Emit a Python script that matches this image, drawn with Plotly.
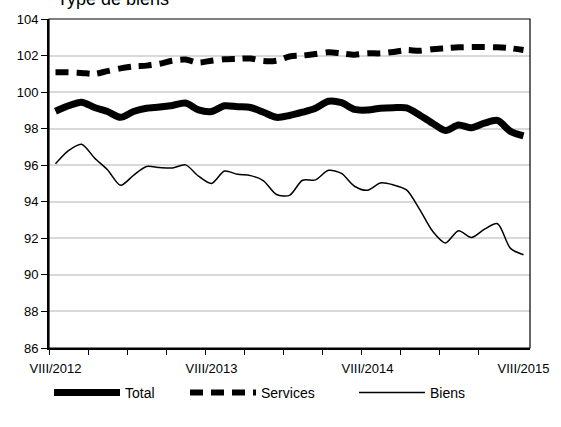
import plotly.graph_objects as go

roman = ["I", "II", "III", "IV", "V", "VI", "VII", "VIII", "IX", "X", "XI", "XII"]
months = []
m, y = 8, 2012
for _ in range(37):
    months.append(f"{roman[m-1]}/{y}")
    m += 1
    if m > 12:
        m, y = 1, y + 1

total = [98.95, 99.25, 99.45, 99.16, 98.94, 98.62, 98.94, 99.12, 99.18, 99.27,
         99.40, 99.03, 98.94, 99.25, 99.20, 99.16, 98.90, 98.62, 98.72, 98.90,
         99.12, 99.50, 99.42, 99.05, 99.02, 99.12, 99.15, 99.14, 98.75, 98.30,
         97.90, 98.20, 98.05, 98.30, 98.45, 97.85, 97.60]
services = [101.08, 101.08, 101.05, 101.00, 101.15, 101.30, 101.40, 101.45, 101.55, 101.72,
            101.78, 101.62, 101.72, 101.80, 101.82, 101.84, 101.70, 101.72, 101.95, 102.00,
            102.08, 102.18, 102.12, 102.05, 102.12, 102.12, 102.20, 102.30, 102.26, 102.35,
            102.40, 102.45, 102.47, 102.47, 102.45, 102.40, 102.30]
biens = [96.08, 96.80, 97.15, 96.40, 95.75, 94.90, 95.45, 95.93, 95.87, 95.85,
         96.02, 95.40, 95.00, 95.68, 95.50, 95.43, 95.15, 94.40, 94.35, 95.18,
         95.20, 95.72, 95.55, 94.85, 94.63, 95.03, 94.92, 94.65, 93.60, 92.40,
         91.75, 92.42, 92.05, 92.50, 92.80, 91.45, 91.10]

label_idx = [0, 12, 24, 36]
y_ticks = [86, 88, 90, 92, 94, 96, 98, 100, 102, 104]

x = list(range(len(months)))
fig = go.Figure()
fig.add_trace(go.Scatter(x=x, y=total, name="Total", mode="lines", legendwidth=55,
                         line=dict(color="black", width=7, shape="spline", smoothing=0.8)))
fig.add_trace(go.Scatter(x=x, y=services, name="Services", mode="lines", legendwidth=88,
                         line=dict(color="black", width=6, shape="spline", smoothing=0.8,
                                   dash="13px,8px")))
fig.add_trace(go.Scatter(x=x, y=biens, name="Biens", mode="lines", legendwidth=70,
                         line=dict(color="black", width=1.5, shape="spline", smoothing=0.8)))

fig.update_layout(
    width=561, height=427,
    margin=dict(l=49, r=27, t=17, b=79),
    paper_bgcolor="white", plot_bgcolor="white",
    font=dict(family="Liberation Sans, Arial", size=13, color="black"),
    showlegend=True,
    legend=dict(orientation="h", x=0.0, xanchor="left", y=-0.088, yanchor="top",
                font=dict(size=14), itemwidth=66, traceorder="normal",
                entrywidth=70, entrywidthmode="pixels"),
    xaxis=dict(range=[-0.5, len(months) - 0.5], tickmode="array",
               tickvals=label_idx, ticktext=[months[i] for i in label_idx],
               ticks="", showgrid=False, zeroline=False,
               showline=True, linecolor="black", linewidth=2,
               ticklabelstandoff=7,
               minor=dict(tickmode="array",
                          tickvals=[i - 0.5 for i in range(0, len(months) - 1, 3)],
                          ticks="outside", ticklen=5, tickcolor="black", tickwidth=1,
                          showgrid=False)),
    yaxis=dict(range=[86, 104], tickmode="array", tickvals=y_ticks,
               ticks="outside", ticklen=6, tickcolor="black", tickwidth=1,
               showgrid=True, gridcolor="#d9d9d9", gridwidth=1.5,
               zeroline=False, showline=True, linecolor="black", linewidth=2),
)
fig.add_shape(type="rect", xref="paper", yref="paper", x0=0, x1=1, y0=0, y1=1,
              line=dict(color="black", width=1.2), fillcolor="rgba(0,0,0,0)", layer="above")
fig.add_annotation(text="Type de biens", xref="paper", yref="paper", x=0.012, y=1.023,
                   xanchor="left", yanchor="bottom", showarrow=False,
                   font=dict(size=18, color="black"))
fig.write_html("out.html", config={"displayModeBar": False},
               post_script="document.body.style.margin='0';document.body.style.overflow='hidden';")
